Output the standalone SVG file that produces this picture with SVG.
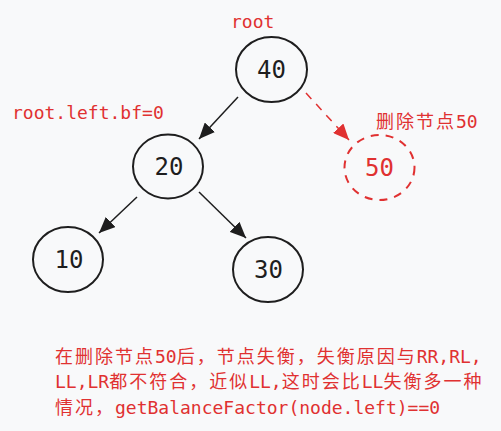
<svg xmlns="http://www.w3.org/2000/svg" width="501" height="431" viewBox="0 0 501 431">
<style>
.node{fill:none;stroke:#1e1e1e;stroke-width:2}
.del{fill:none;stroke:#e03131;stroke-width:2;stroke-dasharray:8 7}
.num{font-family:"DejaVu Sans Mono","Liberation Mono",monospace;font-size:24px;fill:#1e1e1e;text-anchor:middle}
.lbl{font-family:"DejaVu Sans Mono","Noto Sans CJK SC",monospace;font-size:18px;fill:#e03131}
.cj{font-family:"Noto Sans CJK SC",sans-serif;letter-spacing:2px}
.edge{stroke:#1e1e1e;stroke-width:1.5;fill:none}
.edge-del{stroke:#e03131;stroke-width:1.5;fill:none;stroke-dasharray:8 7}
</style>
<defs>
<marker id="ah" markerUnits="userSpaceOnUse" markerWidth="17" markerHeight="14" refX="16" refY="7" orient="auto" viewBox="0 0 17 14">
<path d="M0,0 L16,7 L0,14 z" fill="#1e1e1e"/>
</marker>
<marker id="ahr" markerUnits="userSpaceOnUse" markerWidth="17" markerHeight="14" refX="16" refY="7" orient="auto" viewBox="0 0 17 14">
<path d="M0,0 L16,7 L0,14 z" fill="#e03131"/>
</marker>
</defs>
<rect width="501" height="431" fill="#f8f9fa"/>
<g id="connectors">
<line class="edge" x1="238" y1="97" x2="199" y2="139" marker-end="url(#ah)"/>
<line class="edge-del" x1="306" y1="93" x2="349" y2="140" marker-end="url(#ahr)"/>
<line class="edge" x1="137" y1="197" x2="99" y2="233" marker-end="url(#ah)"/>
<line class="edge" x1="199" y1="192" x2="246" y2="238" marker-end="url(#ah)"/>
</g>
<g id="node-40">
<ellipse class="node" cx="271.5" cy="69.5" rx="35.5" ry="32.5"/>
<text class="num" x="271.5" y="77.5">40</text>
</g>
<g id="node-20">
<ellipse class="node" cx="168" cy="166.5" rx="35" ry="32"/>
<text class="num" x="169" y="175">20</text>
</g>
<g id="node-10">
<ellipse class="node" cx="68" cy="259.5" rx="35" ry="32.5"/>
<text class="num" x="69" y="267.5">10</text>
</g>
<g id="node-30">
<ellipse class="node" cx="268" cy="269.5" rx="35" ry="32.5"/>
<text class="num" x="268.5" y="277.5">30</text>
</g>
<g id="node-50">
<ellipse class="del" cx="379.5" cy="167.5" rx="35" ry="32.5"/>
<text class="num" x="379.5" y="175.5" style="fill:#e03131">50</text>
</g>
<g id="labels">
<text class="lbl" x="376" y="128"><tspan class="cj">删除节点</tspan>50</text>
<text class="lbl" x="231" y="28">root</text>
<text class="lbl" x="12" y="119">root.left.bf=0</text>
<text class="lbl" x="55" y="363"><tspan class="cj">在删除节点</tspan>50<tspan class="cj">后，节点失衡，失衡原因与</tspan>RR,RL,</text>
<text class="lbl" x="55" y="388">LL,LR<tspan class="cj">都不符合，近似</tspan>LL,<tspan class="cj">这时会比</tspan>LL<tspan class="cj">失衡多一种</tspan></text>
<text class="lbl" x="55" y="414"><tspan class="cj">情况，</tspan>getBalanceFactor(node.left)==0</text>
</g>
</svg>
